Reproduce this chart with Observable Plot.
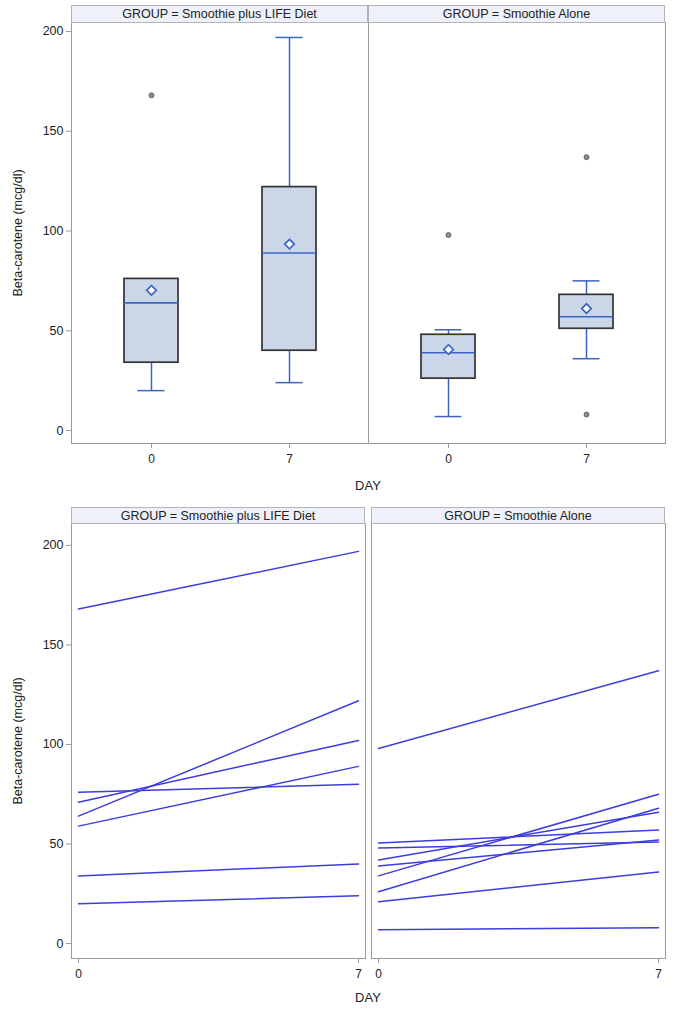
<!DOCTYPE html>
<html><head><meta charset="utf-8">
<script src="https://cdn.jsdelivr.net/npm/d3@7"></script>
<script src="https://cdn.jsdelivr.net/npm/@observablehq/plot@0.6"></script>
<style>
body{margin:0;background:#fff;font-family:"Liberation Sans",Arial,sans-serif;}
#chart svg{display:block;}
</style></head><body><div id="chart"></div>
<script>
// ---- data ----
const groups = ["Smoothie plus LIFE Diet", "Smoothie Alone"];
const days = [0, 7];
const yTicks = [0, 50, 100, 150, 200];
const lifeDay0 = [168, 76, 71, 64, 59, 34, 20];
const lifeDay7 = [197, 80, 102, 122, 89, 40, 24];
const aloneDay0 = [98, 50.5, 48, 42, 39, 34, 26, 21, 7];
const aloneDay7 = [137, 57, 51, 66, 52, 75, 68, 36, 8];
const yLabel = "Beta-carotene (mcg/dl)";
const xLabel = "DAY";

const FONT = '"Liberation Sans", Arial, sans-serif';
const rows = [];
function addGroup(g, d0, d7) {
  d0.forEach((v, i) => {
    rows.push({group: g, id: g + "-" + i, day: 0, value: v});
    rows.push({group: g, id: g + "-" + i, day: 7, value: d7[i]});
  });
}
addGroup(groups[0], lifeDay0, lifeDay7);
addGroup(groups[1], aloneDay0, aloneDay7);

// SAS percentile definition 5
function q(sorted, p) {
  const n = sorted.length, np = n * p, j = Math.floor(np + 1e-9), g = np - j;
  if (g > 1e-9) return sorted[j];
  return (sorted[j - 1] + sorted[j]) / 2;
}
const stats = [], outliers = [];
for (const g of groups) for (const d of days) {
  const vals = rows.filter(r => r.group === g && r.day === d).map(r => r.value).sort((a, b) => a - b);
  const q1 = q(vals, 0.25), med = q(vals, 0.5), q3 = q(vals, 0.75), iqr = q3 - q1;
  const lo = q1 - 1.5 * iqr, hi = q3 + 1.5 * iqr;
  const inside = vals.filter(v => v >= lo && v <= hi);
  stats.push({group: g, day: d, q1, med, q3, mean: d3.mean(vals), wlo: d3.min(inside), whi: d3.max(inside)});
  vals.filter(v => v < lo || v > hi).forEach(v => outliers.push({group: g, day: d, value: v}));
}

const blue = "#3d64c2";
const boxFill = "#cbd6e9";
const frameStroke = "#9a9a9a";

function decorate(chart, headerY, headerH, dayY) {
  const svg = d3.select(chart);
  const fx = chart.scale("fx");
  for (const g of groups) {
    const x0 = fx.apply(g), w = fx.bandwidth;
    svg.append("rect").attr("x", x0 + 0.5).attr("y", headerY + 0.5).attr("width", w - 1).attr("height", headerH)
      .attr("fill", "#eef1f9").attr("stroke", "#b4b4b4");
    svg.append("text").attr("x", x0 + w / 2).attr("y", headerY + headerH / 2 + 0.5)
      .attr("text-anchor", "middle").attr("dominant-baseline", "central")
      .attr("font-family", FONT).attr("font-size", 12.5).attr("fill", "#222")
      .text("GROUP = " + g);
  }
  const mid = (fx.apply(groups[0]) + fx.apply(groups[groups.length - 1]) + fx.bandwidth) / 2;
  svg.append("text").attr("x", mid).attr("y", dayY).attr("text-anchor", "middle").attr("dominant-baseline", "central")
    .attr("font-family", FONT).attr("font-size", 13).attr("fill", "#222").text(xLabel);
}

const common = {
  width: 678,
  marginLeft: 70, marginRight: 13,
  style: {fontFamily: FONT, fontSize: "12px", color: "#222", background: "#fff"}
};
const axisYOpts = {ticks: yTicks, tickSize: 5, tickPadding: 3, stroke: "#999", fill: "#222", label: yLabel, labelAnchor: "center", labelOffset: 58, labelArrow: "none", fontSize: 12.5};

// ---- top: box plots ----
const topChart = Plot.plot({
  ...common,
  height: 500, marginTop: 22, marginBottom: 57,
  fx: {domain: groups, padding: 0, axis: null},
  x: {type: "band", domain: days, paddingInner: 0.61, paddingOuter: 0.379},
  y: {domain: [-6.5, 204.5]},
  marks: [
    Plot.frame({stroke: frameStroke}),
    Plot.axisY(axisYOpts),
    Plot.axisX({tickSize: 5, tickPadding: 6, stroke: "#999", fill: "#222", label: null}),
    Plot.ruleX(stats, {fx: "group", x: "day", y1: "wlo", y2: "q1", stroke: blue, strokeWidth: 1.5}),
    Plot.ruleX(stats, {fx: "group", x: "day", y1: "q3", y2: "whi", stroke: blue, strokeWidth: 1.5}),
    Plot.tickY(stats, {fx: "group", x: "day", y: "wlo", insetLeft: 13.5, insetRight: 13.5, stroke: blue, strokeWidth: 1.5}),
    Plot.tickY(stats, {fx: "group", x: "day", y: "whi", insetLeft: 13.5, insetRight: 13.5, stroke: blue, strokeWidth: 1.5}),
    Plot.barY(stats, {fx: "group", x: "day", y1: "q1", y2: "q3", fill: boxFill, stroke: "#333", strokeWidth: 1.7}),
    Plot.tickY(stats, {fx: "group", x: "day", y: "med", stroke: blue, strokeWidth: 1.6}),
    Plot.dot(stats, {fx: "group", x: "day", y: "mean", symbol: "diamond2", r: 4.3, stroke: blue, strokeWidth: 1.7, fill: "#fff"}),
    Plot.dot(outliers, {fx: "group", x: "day", y: "value", r: 2.5, fill: "#8c8c8c", stroke: "#555", strokeWidth: 0.8})
  ]
});
decorate(topChart, 5, 17, 485);

// ---- bottom: spaghetti lines ----
const bottomChart = Plot.plot({
  ...common,
  height: 511, marginTop: 23, marginBottom: 53,
  fx: {domain: groups, paddingInner: 0.02, paddingOuter: 0, axis: null},
  x: {domain: [0, 7], inset: 7},
  y: {domain: [-7.5, 211]},
  marks: [
    Plot.frame({stroke: frameStroke}),
    Plot.axisY(axisYOpts),
    Plot.axisX({ticks: days, tickFormat: "d", tickSize: 5, tickPadding: 6, stroke: "#999", fill: "#222", label: null}),
    Plot.line(rows, {fx: "group", x: "day", y: "value", z: "id", stroke: "#3c3ce0", strokeWidth: 1.5})
  ]
});
decorate(bottomChart, 7, 16, 497);

document.getElementById("chart").append(topChart, bottomChart);
</script></body></html>
